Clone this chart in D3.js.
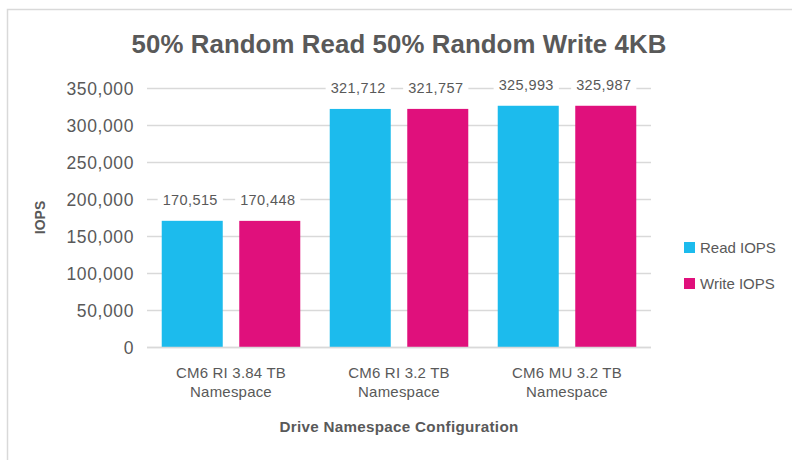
<!DOCTYPE html>
<html>
<head>
<meta charset="utf-8">
<script src="https://cdn.jsdelivr.net/npm/d3@7"></script>
<style>
  html, body { margin: 0; padding: 0; background: #fff; }
  svg { display: block; }
  text { font-family: "Liberation Sans", Arial, sans-serif; fill: #595959; }
</style>
</head>
<body>
<svg id="chart" width="792" height="460"></svg>
<script>
const categories = [["CM6 RI 3.84 TB", "Namespace"], ["CM6 RI 3.2 TB", "Namespace"], ["CM6 MU 3.2 TB", "Namespace"]];
const seriesNames = ["Read IOPS", "Write IOPS"];
const readIOPS = [170515, 321712, 325993];
const writeIOPS = [170448, 321757, 325987];
const yTicks = [0, 50000, 100000, 150000, 200000, 250000, 300000, 350000];
const colors = ["#1cbbed", "#e0107c"];

const svg = d3.select("#chart");
const plot = { left: 147, right: 651, top: 88, bottom: 347 };

// frame
svg.append("rect").attr("x", 7.5).attr("y", 9.5).attr("width", 800).attr("height", 470)
  .attr("fill", "#fff").attr("stroke", "#d9d9d9").attr("stroke-width", 1.5);

const keys = categories.map(c => c.join(" "));
const x0 = d3.scaleBand().domain(keys).range([plot.left, plot.right]).paddingInner(0).paddingOuter(0);
const x1 = d3.scaleBand().domain(seriesNames).range([0, x0.bandwidth()]).paddingInner(0.213).paddingOuter(0.19);
const y = d3.scaleLinear().domain([0, 350000]).range([plot.bottom, plot.top]);

// gridlines
const yAxis = d3.axisLeft(y).tickValues(yTicks).tickSize(-(plot.right - plot.left)).tickFormat(d3.format(","));
const gy = svg.append("g").attr("transform", `translate(${plot.left},0)`).call(yAxis);
gy.select(".domain").remove();
gy.selectAll(".tick line").attr("stroke", "#d9d9d9").attr("stroke-width", 1.3);
gy.selectAll(".tick text").attr("x", -13).attr("dy", "0.36em")
  .style("font-size", "17.5px").style("letter-spacing", "0.6px").attr("fill", "#595959");

const data = keys.map((k, i) => ({ key: k, values: [readIOPS[i], writeIOPS[i]] }));

const groups = svg.append("g").selectAll("g").data(data).join("g")
  .attr("transform", d => `translate(${x0(d.key)},0)`);

groups.selectAll("rect").data(d => d.values.map((v, j) => ({ s: seriesNames[j], v, j })))
  .join("rect")
  .attr("x", d => x1(d.s)).attr("width", x1.bandwidth())
  .attr("y", d => y(d.v)).attr("height", d => y(0) - y(d.v))
  .attr("fill", d => colors[d.j]);

// value labels with white background
const fmt = d3.format(",");
groups.each(function(d) {
  const g = d3.select(this);
  d.values.forEach((v, j) => {
    const s = seriesNames[j];
    const cx = x1(s) + x1.bandwidth() / 2 - 2;
    const t = g.append("text").attr("x", cx).attr("y", y(v) - 15.5)
      .attr("text-anchor", "middle").style("font-size", "14.5px").style("letter-spacing", "0.4px")
      .attr("fill", "#404040").text(fmt(v));
    const bb = t.node().getBBox();
    g.insert("rect", "text").attr("x", bb.x - 5).attr("y", bb.y).attr("width", bb.width + 10).attr("height", bb.height)
      .attr("fill", "#fff");
  });
});

// baseline
svg.append("line").attr("x1", plot.left).attr("x2", plot.right).attr("y1", y(0) + 0.5).attr("y2", y(0) + 0.5)
  .attr("stroke", "#d9d9d9").attr("stroke-width", 1.3);

// category labels
const cl = svg.append("g").selectAll("text").data(categories).join("text")
  .attr("x", (d, i) => x0(keys[i]) + x0.bandwidth() / 2)
  .attr("y", 378)
  .attr("text-anchor", "middle").style("font-size", "15px").style("letter-spacing", "0.2px");
cl.selectAll("tspan").data(d => d).join("tspan")
  .attr("x", function() { return this.parentNode.getAttribute("x"); })
  .attr("dy", (d, i) => i === 0 ? 0 : 19).text(d => d);

// title
svg.append("text").attr("x", 399).attr("y", 53).attr("text-anchor", "middle")
  .style("font-size", "25.8px").style("font-weight", "bold").style("letter-spacing", "0.1px")
  .text("50% Random Read 50% Random Write 4KB");

// axis titles
svg.append("text").attr("transform", `translate(45,${(plot.top + plot.bottom) / 2}) rotate(-90)`)
  .attr("text-anchor", "middle").style("font-size", "14px").style("font-weight", "bold").text("IOPS");
svg.append("text").attr("x", 399).attr("y", 432).attr("text-anchor", "middle")
  .style("font-size", "15.2px").style("font-weight", "bold").style("letter-spacing", "0.3px")
  .text("Drive Namespace Configuration");

// legend
const leg = svg.append("g").selectAll("g").data(seriesNames).join("g")
  .attr("transform", (d, i) => `translate(684,${242 + i * 36})`);
leg.append("rect").attr("width", 11).attr("height", 11).attr("fill", (d, i) => colors[i]);
leg.append("text").attr("x", 16).attr("y", 10.5).style("font-size", "15px").text(d => d);
</script>
</body>
</html>
